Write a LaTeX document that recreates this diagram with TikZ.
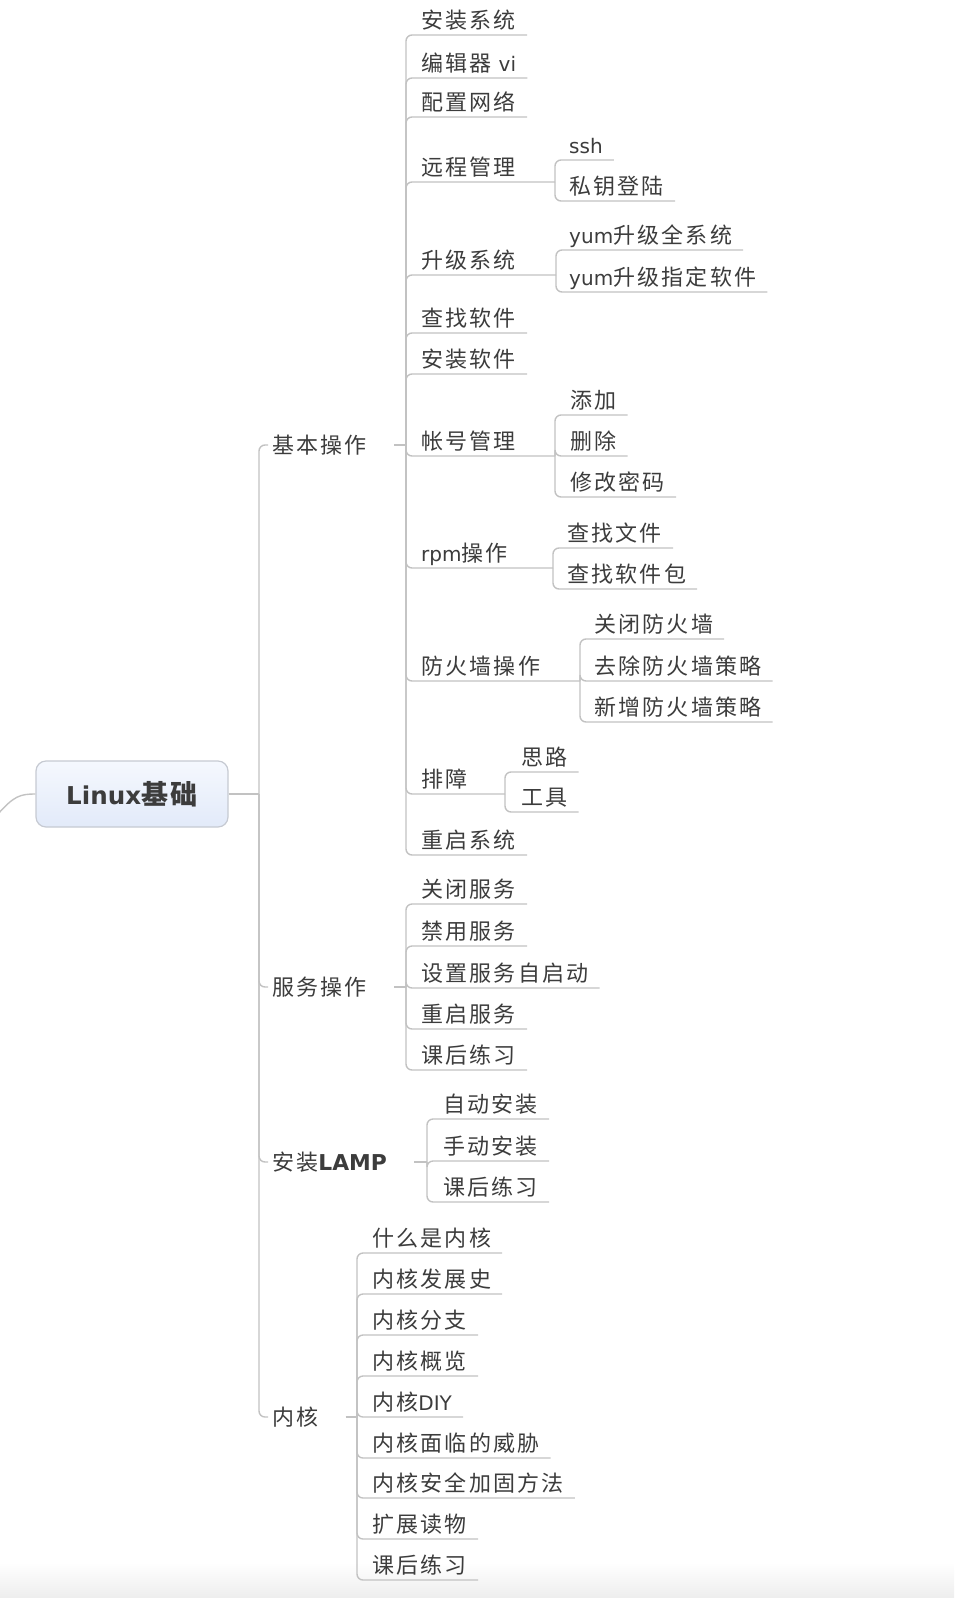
\documentclass[tikz,border=0pt]{standalone}
\usepackage{fontspec}
\setmainfont{Noto Sans CJK SC}[LetterSpace=10]
\newfontfamily\latinfont{DejaVu Sans}[Scale=0.91]
\definecolor{linegray}{HTML}{C2C2C2}
\definecolor{textgray}{HTML}{3C3C3C}
\definecolor{boxtop}{HTML}{F5F8FE}
\definecolor{boxbot}{HTML}{E2EAF9}
\definecolor{boxline}{HTML}{C6CAD2}
\begin{document}
\begin{tikzpicture}[x=1pt,y=-1pt,
	link/.style={draw=linegray,line width=1.4pt,rounded corners=6pt},
	leaf/.style={anchor=south west,inner xsep=11pt,inner ysep=0pt,text height=16pt,text depth=6pt,text=textgray,font=\fontsize{22}{22}\selectfont},
	topic/.style={anchor=west,inner xsep=4pt,inner ysep=0pt,text=textgray,font=\fontsize{22}{22}\selectfont},
	root/.style={draw=boxline,line width=1.2pt,rounded corners=10pt,top color=boxtop,bottom color=boxbot,minimum width=192pt,minimum height=66pt,text=textgray,font=\fontsize{27}{27}\selectfont\bfseries}]
			\useasboundingbox (0,0) rectangle (954,1598);
			\fill[top color=white,bottom color=black!7] (0,1562) rectangle (954,1598);
			\node[root](linux) at (132,794){{\latinfont Linux}基础};
			\coordinate (linux-j) at (259,794);
			\coordinate (linux-in) at (-2,814);
			\node[topic](basic) at (268,445){基本操作};
			\node[topic](service) at (268,987){服务操作};
			\node[topic](lamp) at (268,1162){安装{\latinfont\bfseries\fontsize{24}{24}\selectfont LAMP}};
			\node[topic](kernel) at (268,1417){内核};
			\coordinate (basic-j) at (406,445);
			\coordinate (service-j) at (406,987);
			\coordinate (lamp-j) at (427,1162);
			\coordinate (kernel-j) at (357,1417);
			\node[leaf](installsys) at (410,35){安装系统};
			\node[leaf](editor) at (410,78){编辑器 {\latinfont vi}};
			\node[leaf](network) at (410,117){配置网络};
			\node[leaf](remote) at (410,182){远程管理};
			\node[leaf](upgrade) at (410,275){升级系统};
			\node[leaf](findsw) at (410,333){查找软件};
			\node[leaf](installsw) at (410,374){安装软件};
			\node[leaf](account) at (410,456){帐号管理};
			\node[leaf](rpm) at (410,568){{\latinfont rpm}操作};
			\node[leaf](firewall) at (410,681){防火墙操作};
			\node[leaf](trouble) at (410,794){排障};
			\node[leaf](reboot) at (410,855){重启系统};
			\coordinate (remote-j) at (555,182);
			\coordinate (upgrade-j) at (556,275);
			\coordinate (account-j) at (555,456);
			\coordinate (rpm-j) at (553,568);
			\coordinate (firewall-j) at (580,681);
			\coordinate (trouble-j) at (505,794);
			\node[leaf](ssh) at (558,160){{\latinfont ssh}};
			\node[leaf](keylogin) at (558,201){私钥登陆};
			\node[leaf](yumall) at (558,250){{\latinfont yum}升级全系统};
			\node[leaf](yumpkg) at (558,292){{\latinfont yum}升级指定软件};
			\node[leaf](adduser) at (559,415){添加};
			\node[leaf](deluser) at (559,456){删除};
			\node[leaf](passwd) at (559,497){修改密码};
			\node[leaf](findfile) at (556,548){查找文件};
			\node[leaf](findpkg) at (556,589){查找软件包};
			\node[leaf](fwoff) at (583,639){关闭防火墙};
			\node[leaf](fwdel) at (583,681){去除防火墙策略};
			\node[leaf](fwadd) at (583,722){新增防火墙策略};
			\node[leaf](idea) at (510,772){思路};
			\node[leaf](tools) at (510,812){工具};
			\node[leaf](svcoff) at (410,904){关闭服务};
			\node[leaf](svcdis) at (410,946){禁用服务};
			\node[leaf](svcboot) at (410,988){设置服务自启动};
			\node[leaf](svcrestart) at (410,1029){重启服务};
			\node[leaf](svcwork) at (410,1070){课后练习};
			\node[leaf](lampauto) at (432,1119){自动安装};
			\node[leaf](lampman) at (432,1161){手动安装};
			\node[leaf](lampwork) at (432,1202){课后练习};
			\node[leaf](kwhat) at (361,1253){什么是内核};
			\node[leaf](khist) at (361,1294){内核发展史};
			\node[leaf](kbranch) at (361,1335){内核分支};
			\node[leaf](kview) at (361,1376){内核概览};
			\node[leaf](kdiy) at (361,1417){内核{\latinfont DIY}};
			\node[leaf](kthreat) at (361,1458){内核面临的威胁};
			\node[leaf](ksecure) at (361,1498){内核安全加固方法};
			\node[leaf](kread) at (361,1539){扩展读物};
			\node[leaf](kwork) at (361,1580){课后练习};
			\draw[link] (linux-in) .. controls (14,796) and (20,794) .. (linux.west);
			\draw[link] (linux.east) -- (linux-j);
			\draw[link] (linux-j) |- (basic.west);
			\draw[link] (linux-j) |- (service.west);
			\draw[link] (linux-j) |- (lamp.west);
			\draw[link] (linux-j) |- (kernel.west);
			\draw[link,shorten <=23pt] (basic.east) -- (basic-j);
			\draw[link,shorten <=23pt] (service.east) -- (service-j);
			\draw[link,shorten <=23pt] (lamp.east) -- (lamp-j);
			\draw[link,shorten <=23pt] (kernel.east) -- (kernel-j);
			\draw[link] (basic-j) |- (installsys.south east);
			\draw[link] (basic-j) |- (editor.south east);
			\draw[link] (basic-j) |- (network.south east);
			\draw[link] (basic-j) |- (remote-j);
			\draw[link] (basic-j) |- (upgrade-j);
			\draw[link] (basic-j) |- (findsw.south east);
			\draw[link] (basic-j) |- (installsw.south east);
			\draw[link] (basic-j) |- (account-j);
			\draw[link] (basic-j) |- (rpm-j);
			\draw[link] (basic-j) |- (firewall-j);
			\draw[link] (basic-j) |- (trouble-j);
			\draw[link] (basic-j) |- (reboot.south east);
			\draw[link] (remote-j) |- (ssh.south east);
			\draw[link] (remote-j) |- (keylogin.south east);
			\draw[link] (upgrade-j) |- (yumall.south east);
			\draw[link] (upgrade-j) |- (yumpkg.south east);
			\draw[link] (account-j) |- (adduser.south east);
			\draw[link] (account-j) |- (deluser.south east);
			\draw[link] (account-j) |- (passwd.south east);
			\draw[link] (rpm-j) |- (findfile.south east);
			\draw[link] (rpm-j) |- (findpkg.south east);
			\draw[link] (firewall-j) |- (fwoff.south east);
			\draw[link] (firewall-j) |- (fwdel.south east);
			\draw[link] (firewall-j) |- (fwadd.south east);
			\draw[link] (trouble-j) |- (idea.south east);
			\draw[link] (trouble-j) |- (tools.south east);
			\draw[link] (service-j) |- (svcoff.south east);
			\draw[link] (service-j) |- (svcdis.south east);
			\draw[link] (service-j) |- (svcboot.south east);
			\draw[link] (service-j) |- (svcrestart.south east);
			\draw[link] (service-j) |- (svcwork.south east);
			\draw[link] (lamp-j) |- (lampauto.south east);
			\draw[link] (lamp-j) |- (lampman.south east);
			\draw[link] (lamp-j) |- (lampwork.south east);
			\draw[link] (kernel-j) |- (kwhat.south east);
			\draw[link] (kernel-j) |- (khist.south east);
			\draw[link] (kernel-j) |- (kbranch.south east);
			\draw[link] (kernel-j) |- (kview.south east);
			\draw[link] (kernel-j) |- (kdiy.south east);
			\draw[link] (kernel-j) |- (kthreat.south east);
			\draw[link] (kernel-j) |- (ksecure.south east);
			\draw[link] (kernel-j) |- (kread.south east);
			\draw[link] (kernel-j) |- (kwork.south east);
		\end{tikzpicture}
\end{document}
